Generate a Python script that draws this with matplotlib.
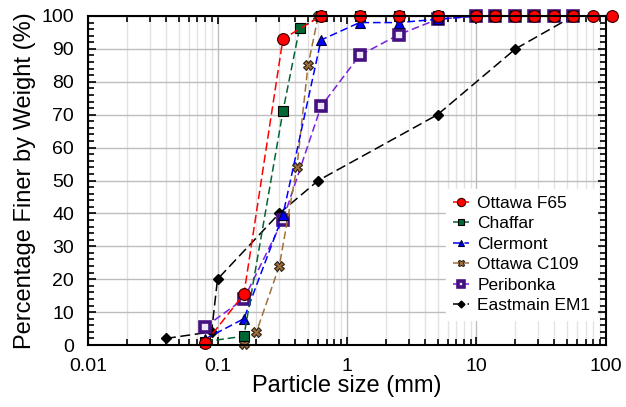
import matplotlib
matplotlib.use("Agg")
import matplotlib.pyplot as plt
from matplotlib.ticker import LogLocator, MultipleLocator, FixedFormatter, FixedLocator

plt.rcParams['font.family'] = ['Liberation Sans', 'DejaVu Sans']

# sieve sizes (mm) and percent passing
f65_x = [0.08, 0.16, 0.32, 0.63, 1.25, 2.5, 5, 10, 14, 20, 28, 40, 56, 80, 112]
f65_y = [0.5, 15.5, 93, 100, 100, 100, 100, 100, 100, 100, 100, 100, 100, 100, 100]

chaffar_x = [0.08, 0.16, 0.32, 0.43, 0.63, 1.25, 2.5, 5, 10, 14, 20, 28, 40, 56]
chaffar_y = [1, 2.7, 71, 96.3, 100, 100, 100, 100, 100, 100, 100, 100, 100, 100]

clermont_x = [0.08, 0.16, 0.32, 0.63, 1.25, 2.5, 5, 10, 14, 20, 28, 40, 56]
clermont_y = [1.8, 8, 39.5, 92.7, 98, 98, 99, 100, 100, 100, 100, 100, 100]

c109_x = [0.16, 0.2, 0.3, 0.41, 0.5, 0.6, 1.25, 2.5, 5, 10, 14, 20, 28, 40, 56]
c109_y = [0.3, 4, 24, 54, 85, 100, 100, 100, 100, 100, 100, 100, 100, 100, 100]

peri_x = [0.08, 0.16, 0.32, 0.63, 1.25, 2.5, 5, 10, 14, 20, 28, 40, 56]
peri_y = [5.5, 14, 38, 72.5, 88, 94.3, 99, 100, 100, 100, 100, 100, 100]

em1_x = [0.04, 0.09, 0.1, 0.3, 0.6, 5, 20, 56]
em1_y = [2, 4, 20, 40, 50, 70, 90, 100]

fig = plt.figure(figsize=(6.26, 4.07), dpi=100)
ax = fig.add_axes([0.1406, 0.1523, 0.8274, 0.8084])

# drawn back to front so the red circles sit on top
h_em1, = ax.plot(em1_x, em1_y, ls=(0, (6.5, 3)), color='black', lw=1.1, marker='D',
                 ms=5, mfc='black', mec='black', label='Eastmain EM1', clip_on=False)
h_peri, = ax.plot(peri_x, peri_y, ls=(0, (5, 2.5)), color='#7a1fe0', lw=1.1, marker='s',
                  ms=6.5, mfc='#eee6f6', mec='#45107f', mew=2.6, label='Peribonka', clip_on=False)
h_c109, = ax.plot(c109_x, c109_y, ls=(0, (5, 2.5)), color='#a0703a', lw=1.1, marker='X',
                  ms=7, mfc='#a0703a', mec='#2a2015', mew=0.8, label='Ottawa C109', clip_on=False)
h_cler, = ax.plot(clermont_x, clermont_y, ls=(0, (5, 2.5)), color='#0000ff', lw=1.1, marker='^',
                  ms=7, mfc='#0000ff', mec='#000033', mew=0.8, label='Clermont', clip_on=False)
h_chaf, = ax.plot(chaffar_x, chaffar_y, ls=(0, (5, 2.5)), color='#006633', lw=1.1, marker='s',
                  ms=7, mfc='#006633', mec='black', mew=0.8, label='Chaffar', clip_on=False)
h_f65, = ax.plot(f65_x, f65_y, ls=(0, (5.5, 2.5)), color='#ff0000', lw=1.1, marker='o',
                 ms=8.5, mfc='#ff0000', mec='#330000', mew=0.8, label='Ottawa F65', clip_on=False)

ax.set_xscale('log')
ax.set_xlim(0.01, 100)
ax.set_ylim(0, 100)

ax.xaxis.set_major_locator(FixedLocator([0.01, 0.1, 1, 10, 100]))
ax.xaxis.set_major_formatter(FixedFormatter(['0.01', '0.1', '1', '10', '100']))
ax.xaxis.set_minor_locator(LogLocator(base=10, subs=range(2, 10)))
ax.yaxis.set_major_locator(MultipleLocator(10))
ax.yaxis.set_minor_locator(MultipleLocator(2))

ax.grid(True, which='major', color='#bdbdbd', lw=1.0)
ax.grid(True, which='minor', axis='x', color='#e2e2e2', lw=1.0)
ax.set_axisbelow(True)

ax.tick_params(which='both', direction='in', top=True, right=True, labelsize=14, width=1.2)
ax.tick_params(which='major', length=6)
ax.tick_params(which='minor', length=4)
ax.tick_params(axis='x', pad=9)
ax.tick_params(axis='y', pad=10)
for s in ax.spines.values():
    s.set_linewidth(1.5)

ax.set_xlabel('Particle size (mm)', fontsize=17, labelpad=0)
ax.set_ylabel('Percentage Finer by Weight (%)', fontsize=17, labelpad=4)

leg = ax.legend(handles=[h_f65, h_chaf, h_cler, h_c109, h_peri, h_em1],
                loc='lower right', bbox_to_anchor=(1.0, 0.05), fontsize=12.5,
                handlelength=0.9, handletextpad=0.5, labelspacing=0.3,
                markerscale=0.7, frameon=True, fancybox=False, borderpad=0.4)
leg.get_frame().set_edgecolor('white')
leg.get_frame().set_alpha(1)

fig.savefig('out.png', dpi=100)
